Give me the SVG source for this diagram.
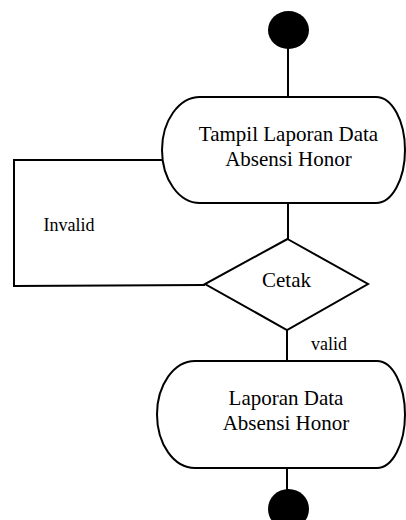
<svg xmlns="http://www.w3.org/2000/svg" width="406" height="520" viewBox="0 0 406 520">
<style>
.s{fill:#fff;stroke:#000;stroke-width:2}
.c{fill:none;stroke:#000;stroke-width:2}
.t{font-family:"Liberation Serif","Times New Roman",serif;fill:#000;text-anchor:middle;font-size:21px}
.l{font-size:18px}
</style>
<rect width="406" height="520" fill="#fff"/>
<g id="connectors">
<line class="c" x1="288" y1="48" x2="288" y2="97"/>
<line class="c" x1="288" y1="203" x2="288" y2="239"/>
<polyline class="c" points="162,160 14,160 14,286 205,285"/>
<line class="c" x1="287" y1="330" x2="287" y2="361"/>
<line class="c" x1="287" y1="468" x2="287" y2="490"/>
<text class="t l" x="69" y="231">Invalid</text>
<text class="t l" x="329" y="350">valid</text>
</g>
<g id="start">
<ellipse cx="288.5" cy="30" rx="20.5" ry="19" fill="#000"/>
</g>
<g id="tampil">
<path class="s" d="M200,97 H376 A29,53 0 0 1 376,203 H200 A38,53 0 0 1 200,97 Z"/>
<text class="t" x="288.5" y="141">Tampil Laporan Data</text>
<text class="t" x="288.5" y="166">Absensi Honor</text>
</g>
<g id="cetak">
<polygon class="s" points="287.5,239 368,284 287,330 205,284"/>
<text class="t" x="286.5" y="287">Cetak</text>
</g>
<g id="laporan">
<path class="s" d="M195,361 H377 A28,53.5 0 0 1 377,468 H195 A38,53.5 0 0 1 195,361 Z"/>
<text class="t" x="286" y="405">Laporan Data</text>
<text class="t" x="286" y="430">Absensi Honor</text>
</g>
<g id="end">
<ellipse cx="288.5" cy="509" rx="20.5" ry="20" fill="#000"/>
</g>
</svg>
